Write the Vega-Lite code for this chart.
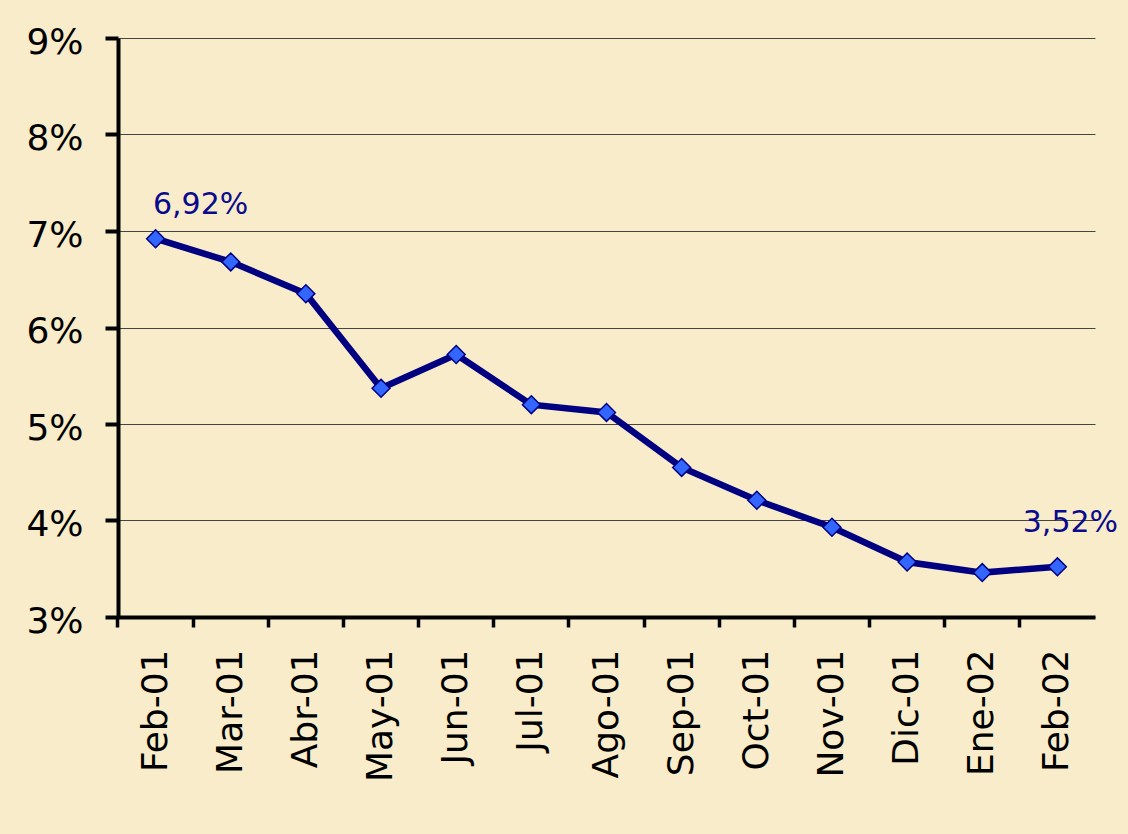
{
  "$schema": "https://vega.github.io/schema/vega-lite/v6.json",
  "width": 977,
  "height": 579,
  "autosize": {"type": "none"},
  "padding": {"left": 118, "top": 38, "right": 33, "bottom": 217},
  "background": "#f8ecca",
  "config": {
    "view": {"stroke": null},
    "locale": {"number": {"decimal": ",", "thousands": ".", "grouping": [3], "currency": ["", " €"]}}
  },
  "data": {
    "values": [
      {"mes": "Feb-01", "tasa": 0.0692},
      {"mes": "Mar-01", "tasa": 0.0668},
      {"mes": "Abr-01", "tasa": 0.0635},
      {"mes": "May-01", "tasa": 0.0537},
      {"mes": "Jun-01", "tasa": 0.0572},
      {"mes": "Jul-01", "tasa": 0.0520},
      {"mes": "Ago-01", "tasa": 0.0512},
      {"mes": "Sep-01", "tasa": 0.0455},
      {"mes": "Oct-01", "tasa": 0.0421},
      {"mes": "Nov-01", "tasa": 0.0393},
      {"mes": "Dic-01", "tasa": 0.0357},
      {"mes": "Ene-02", "tasa": 0.0346},
      {"mes": "Feb-02", "tasa": 0.0352}
    ]
  },
  "encoding": {
    "x": {
      "field": "mes", "type": "ordinal", "sort": null, "bandPosition": 0.5,
      "scale": {"type": "band", "paddingInner": 0, "paddingOuter": 0},
      "axis": {
        "title": null, "labelAngle": -90, "labelAlign": "right", "labelBaseline": "middle",
        "labelFont": "DejaVu Sans", "labelFontSize": 36, "labelColor": "#000000",
        "labelPadding": 22, "bandPosition": 0, "tickSize": 10, "tickWidth": 3.5, "tickColor": "#000000",
        "domainColor": "#000000", "domainWidth": 4, "grid": false
      }
    },
    "y": {
      "field": "tasa", "type": "quantitative",
      "scale": {"domain": [0.03, 0.09], "nice": false, "zero": false},
      "axis": {
        "title": null, "format": ".0%", "values": [0.03, 0.04, 0.05, 0.06, 0.07, 0.08, 0.09],
        "labelFont": "DejaVu Sans", "labelFontSize": 36, "labelColor": "#000000", "labelPadding": 22,
        "labelOffset": 4,
        "tickSize": 13, "tickWidth": 4, "tickColor": "#000000",
        "domainColor": "#000000", "domainWidth": 4,
        "grid": true, "gridColor": "#444444", "gridWidth": 1
      }
    }
  },
  "layer": [
    {"mark": {"type": "line", "color": "#000080", "strokeWidth": 6.5}},
    {"mark": {"type": "point", "shape": "diamond", "size": 320, "filled": true, "fill": "#3366ff", "stroke": "#000080", "strokeWidth": 1.5, "opacity": 1}},
    {
      "transform": [{"filter": "datum.mes == 'Feb-01'"}],
      "mark": {"type": "text", "font": "DejaVu Sans", "fontSize": 30, "color": "#0a0a8c", "align": "center", "baseline": "middle", "dx": 45, "dy": -34},
      "encoding": {"text": {"field": "tasa", "type": "quantitative", "format": ".2%"}}
    },
    {
      "transform": [{"filter": "datum.mes == 'Feb-02'"}],
      "mark": {"type": "text", "font": "DejaVu Sans", "fontSize": 30, "color": "#0a0a8c", "align": "center", "baseline": "middle", "dx": 13, "dy": -44},
      "encoding": {"text": {"field": "tasa", "type": "quantitative", "format": ".2%"}}
    }
  ]
}
